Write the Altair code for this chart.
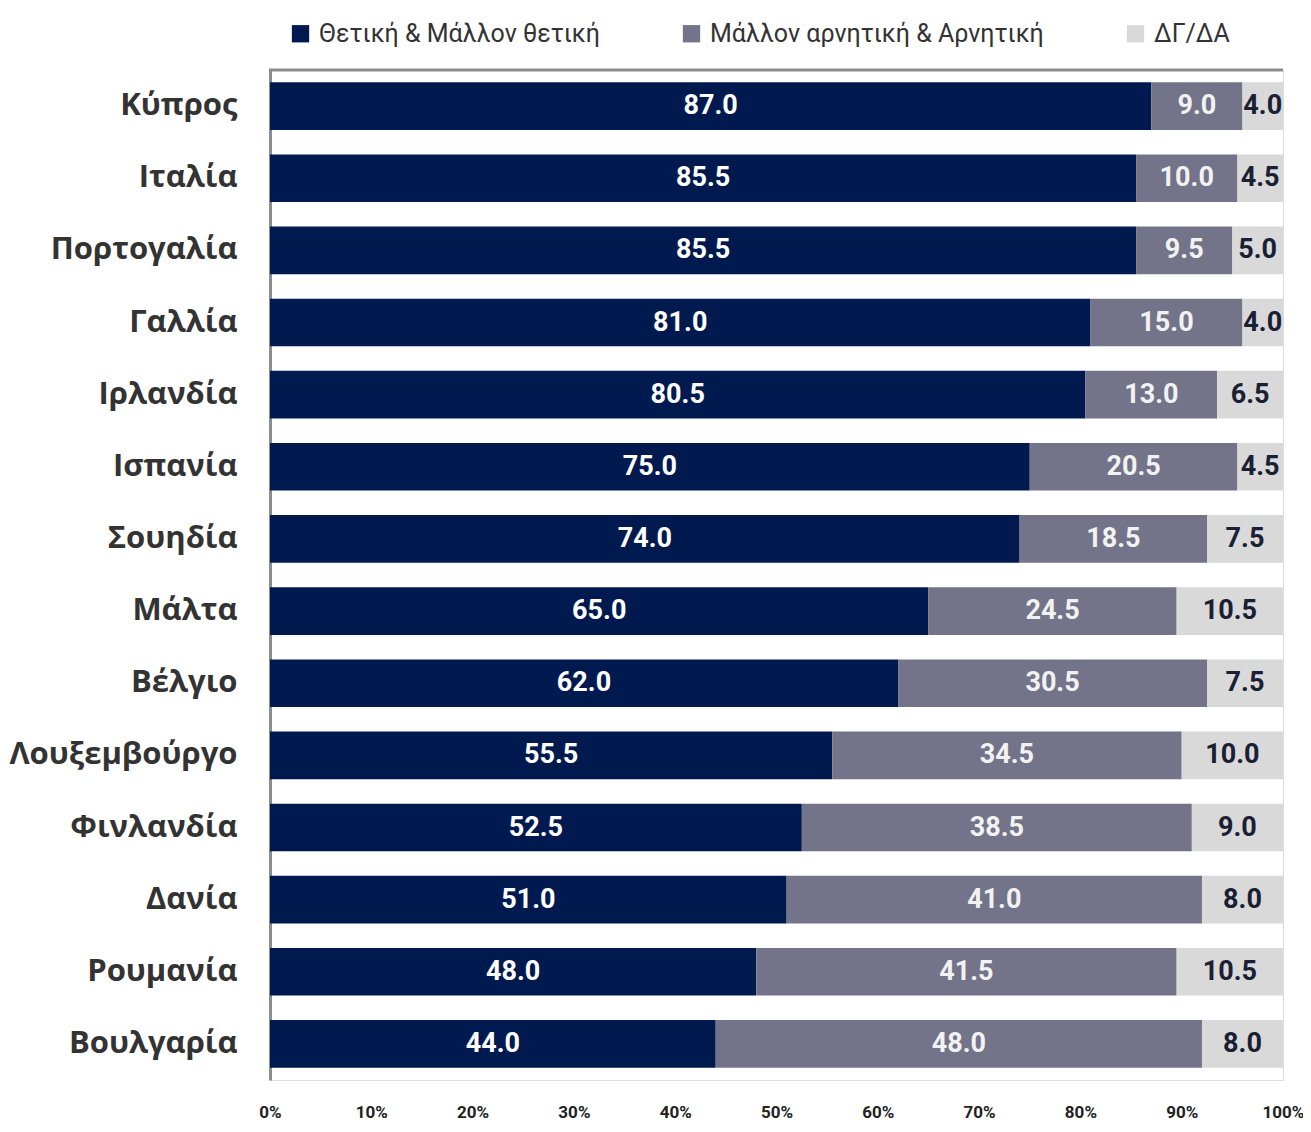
import altair as alt
import pandas as pd

countries = ["Κύπρος", "Ιταλία", "Πορτογαλία", "Γαλλία", "Ιρλανδία", "Ισπανία",
             "Σουηδία", "Μάλτα", "Βέλγιο", "Λουξεμβούργο", "Φινλανδία", "Δανία",
             "Ρουμανία", "Βουλγαρία"]
positive = [87.0, 85.5, 85.5, 81.0, 80.5, 75.0, 74.0, 65.0, 62.0, 55.5, 52.5, 51.0, 48.0, 44.0]
negative = [9.0, 10.0, 9.5, 15.0, 13.0, 20.5, 18.5, 24.5, 30.5, 34.5, 38.5, 41.0, 41.5, 48.0]
dkna = [4.0, 4.5, 5.0, 4.0, 6.5, 4.5, 7.5, 10.5, 7.5, 10.0, 9.0, 8.0, 10.5, 8.0]

categories = ["Θετική & Μάλλον θετική", "Μάλλον αρνητική & Αρνητική", "ΔΓ/ΔΑ"]
bar_colors = ["#001A4F", "#737489", "#D9D9D9"]
text_colors = ["#FFFFFF", "#F2F2F2", "#1A2033"]
x_ticks = [0, 10, 20, 30, 40, 50, 60, 70, 80, 90, 100]

rows = []
for i, c in enumerate(countries):
    for k, vals in enumerate([positive, negative, dkna]):
        rows.append({"country": c, "cat": categories[k], "ord": k,
                     "value": vals[i], "tcolor": text_colors[k]})
df = pd.DataFrame(rows)

W, H = 1013, 1010
NARROW = "Roboto"

base = alt.Chart(df).transform_stack(
    stack="value", groupby=["country"], as_=["x0", "x1"],
    sort=[alt.SortField("ord", order="ascending")]
).transform_calculate(mid="(datum.x0 + datum.x1) / 2")

yenc = alt.Y("country:N", sort=countries, title=None,
             scale=alt.Scale(paddingInner=0.34, paddingOuter=0.17),
             axis=alt.Axis(labelFont="Open Sans", labelFontSize=31, labelFontWeight="bold",
                           labelColor="#333333", labelPadding=33, ticks=False,
                           labelLimit=400, domainColor="#8C8C8C", domainWidth=3))

bars = base.mark_bar().encode(
    y=yenc,
    x=alt.X("x0:Q", title=None, scale=alt.Scale(domain=[0, 100], nice=False),
            axis=alt.Axis(values=x_ticks, labelExpr="datum.value + '%'", grid=False,
                          domain=False, ticks=False, labelFont=NARROW, labelFontSize=17,
                          labelFlush=False,
                          labelFontWeight="bold", labelColor="#222222", labelPadding=24)),
    x2="x1:Q",
    color=alt.Color("cat:N", scale=alt.Scale(domain=categories, range=bar_colors),
                    legend=alt.Legend(orient="none", legendX=18, legendY=-49,
                                      direction="horizontal", title=None,
                                      symbolType="square", symbolSize=300,
                                      symbolStrokeWidth=0, labelFont=NARROW,
                                      labelFontSize=25, labelColor="#333333",
                                      labelOffset=6, columnPadding=79,
                                      labelLimit=500)),
)

texts = base.mark_text(font=NARROW, fontSize=27, fontWeight="bold", baseline="middle",
                       align="center").encode(
    y=alt.Y("country:N", sort=countries),
    x=alt.X("mid:Q"),
    text=alt.Text("value:Q", format=".1f"),
    color=alt.Color("tcolor:N", scale=None),
)

top_line = alt.Chart(pd.DataFrame({"a": [0]})).mark_rule(color="#8C8C8C", strokeWidth=3).encode(
    x=alt.value(-1), x2=alt.value(W), y=alt.value(0)
)

chart = alt.layer(bars, texts, top_line).properties(
    width=W, height=H,
    autosize=alt.AutoSizeParams(type="none"),
    padding={"left": 262, "top": 62, "right": 20, "bottom": 44},
).configure_view(stroke=None).configure(background="white")

chart.save("out.html", embed_options={"renderer": "svg", "actions": False})
